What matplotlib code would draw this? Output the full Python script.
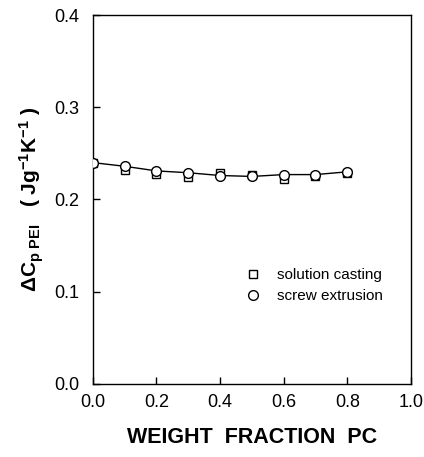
import matplotlib
matplotlib.use('Agg')
import matplotlib.pyplot as plt

plt.rcParams['font.family'] = 'Liberation Sans'
plt.rcParams['mathtext.fontset'] = 'custom'
plt.rcParams['mathtext.rm'] = 'Liberation Sans:bold'
plt.rcParams['mathtext.bf'] = 'Liberation Sans:bold'
plt.rcParams['mathtext.it'] = 'Liberation Sans:bold'
plt.rcParams['mathtext.default'] = 'bf'

# Data
weight_fraction = [0.0, 0.1, 0.2, 0.3, 0.4, 0.5, 0.6, 0.7, 0.8]
solution_casting = [0.240, 0.232, 0.228, 0.224, 0.229, 0.227, 0.222, 0.225, 0.229]
screw_extrusion = [0.240, 0.236, 0.231, 0.229, 0.226, 0.225, 0.227, 0.227, 0.230]

fig = plt.figure(figsize=(4.24, 4.57), dpi=100)
ax = fig.add_axes([0.219, 0.160, 0.750, 0.807])

ax.plot(weight_fraction, screw_extrusion, '-', color='black', linewidth=1.0, zorder=2)
ax.plot(weight_fraction, solution_casting, 's', markersize=5.5, markerfacecolor='white',
        markeredgecolor='black', markeredgewidth=1.0, linestyle='none', zorder=3,
        label='solution casting')
ax.plot(weight_fraction, screw_extrusion, 'o', markersize=7, markerfacecolor='white',
        markeredgecolor='black', markeredgewidth=1.0, linestyle='none', zorder=4,
        label='screw extrusion')

ax.set_xlim(0, 1.0)
ax.set_ylim(0, 0.4)
ax.set_xticks([0.0, 0.2, 0.4, 0.6, 0.8, 1.0])
ax.set_yticks([0.0, 0.1, 0.2, 0.3, 0.4])
ax.set_xticklabels(['0.0', '0.2', '0.4', '0.6', '0.8', '1.0'])
ax.set_yticklabels(['0.0', '0.1', '0.2', '0.3', '0.4'])
ax.tick_params(direction='in', length=5, width=1.0, labelsize=13)
ax.tick_params(axis='y', pad=10)
ax.tick_params(axis='x', pad=7)

for s in ax.spines.values():
    s.set_linewidth(1.0)

ax.set_xlabel('WEIGHT  FRACTION  PC', fontsize=15.5, fontweight='bold', labelpad=12)
ax.set_ylabel(r'$\Delta$C$_{\mathbf{p\ PEI}}$   ( Jg$^{\mathbf{-1}}$K$^{\mathbf{-1}}$ )',
              fontsize=15, fontweight='bold', labelpad=6)

ax.legend(loc='upper left', bbox_to_anchor=(0.435, 0.33), frameon=False, fontsize=11,
          handletextpad=0.6, labelspacing=0.45, borderaxespad=0)

fig.savefig('out.png', dpi=100)
